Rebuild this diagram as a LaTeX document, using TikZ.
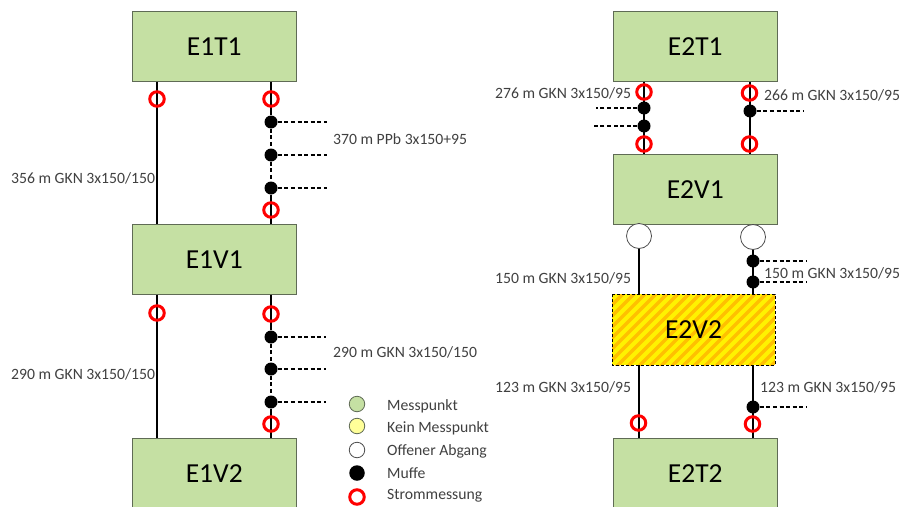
\documentclass[tikz,border=0pt]{standalone}
\usepackage{fontspec}
\setmainfont{Carlito}
\definecolor{boxgreen}{HTML}{C5E0A3}
\definecolor{boxedge}{HTML}{5F6B55}
\definecolor{txt}{HTML}{404040}
\definecolor{hatchy}{HTML}{FFF200}
\definecolor{hatcho}{HTML}{FFC000}
\definecolor{paleyel}{HTML}{FFFF99}
\definecolor{ringred}{HTML}{FF0000}
\tikzset{
  x=1pt,y=-1pt,
  station/.style={draw=boxedge,line width=1pt,fill=boxgreen,minimum width=163.5pt,minimum height=69.5pt,inner sep=0pt,font=\fontsize{27.5}{28}\selectfont,text=black,anchor=north west},
  cable/.style={draw=black,line width=1.2pt},
  stub/.style={draw=black,line width=1.2pt,dash pattern=on 4pt off 2.6pt},
  muffe/.style={circle,fill=black,draw=none,minimum size=13pt,inner sep=0pt},
  ring/.style={circle,draw=ringred,line width=3pt,fill=none,minimum size=14.5pt,inner sep=0pt},
  opencirc/.style={circle,draw=black!70,line width=0.8pt,fill=white,minimum size=25pt,inner sep=0pt},
  lab/.style={font=\fontsize{15.7}{16}\selectfont,text=txt,anchor=west,inner sep=0pt,yshift=-1pt},
  legdot/.style={circle,line width=0.8pt,minimum size=15.5pt,inner sep=0pt},
}
\begin{document}
\begin{tikzpicture}
\useasboundingbox (0,0) rectangle (901,506);
\clip (0,0) rectangle (901,506);
% stations
\node[station] (E1T1) at (132,11) {E1T1};
\node[station] (E1V1) at (132,224) {E1V1};
\node[station,anchor=north west] (E1V2) at (132,438) {E1V2};
\node[station] (E2T1) at (613,11) {E2T1};
\node[station] (E2V1) at (613,154) {E2V1};
\node[station,draw=none,fill=none,line width=0pt,minimum width=163pt,minimum height=71pt] (E2V2) at (612,294) {};
\node[station] (E2T2) at (613,438) {E2T2};
% hatched station
\fill[hatchy] (E2V2.north west) rectangle (E2V2.south east);
\begin{scope}
\clip (E2V2.north west) rectangle (E2V2.south east);
\foreach \k in {-88,-77,...,264}{
  \draw[hatcho,line width=3.4pt] (600+\k,372) -- (600+\k+90,282);
}
\end{scope}
\draw[black,line width=0.8pt,dash pattern=on 3pt off 2pt] (E2V2.north west) rectangle (E2V2.south east);
\node[font=\fontsize{27.5}{28}\selectfont] at (E2V2.center) {E2V2};
% left column nodes
\coordinate (a1) at (157,99);
\coordinate (a2) at (271,99);
\coordinate (b1) at (157,313);
\coordinate (b2) at (271,314);
\node[muffe] (m1) at (271,122) {};
\node[muffe] (m2) at (271,155) {};
\node[muffe] (m3) at (271,188) {};
\node[muffe] (m4) at (271,337) {};
\node[muffe] (m5) at (271,369) {};
\node[muffe] (m6) at (271,402) {};
\coordinate (s1) at (327,122);
\coordinate (s2) at (327,155);
\coordinate (s3) at (327,188);
\coordinate (s4) at (326,337);
\coordinate (s5) at (326,369);
\coordinate (s6) at (326,402);
% right column nodes
\node[muffe] (n1) at (644,108) {};
\node[muffe] (n2) at (644,126) {};
\node[muffe] (n3) at (750,111) {};
\node[muffe] (n4) at (753,261) {};
\node[muffe] (n5) at (753,282) {};
\node[muffe] (n6) at (753,407) {};
\coordinate (t1) at (596,108);
\coordinate (t2) at (593,126);
\coordinate (t3) at (804,111);
\coordinate (t4) at (807,261);
\coordinate (t5) at (807,282);
\coordinate (t6) at (807,407);
\node[opencirc] (o1) at (639,236) {};
\node[opencirc] (o2) at (753,237) {};
% cables
\draw[cable] (a1 |- E1T1.south) -- (a1 |- E1V1.north);
\draw[cable] (a2 |- E1T1.south) -- (m1);
\draw[stub] (m1) -- (m2);
\draw[stub] (m2) -- (m3);
\draw[cable] (m3) -- (a2 |- E1V1.north);
\draw[cable] (b1 |- E1V1.south) -- (b1 |- E1V2.north);
\draw[cable] (b2 |- E1V1.south) -- (m4);
\draw[stub] (m4) -- (m5);
\draw[stub] (m5) -- (m6);
\draw[cable] (m6) -- (b2 |- E1V2.north);
\draw[stub] (m1) -- (s1);
\draw[stub] (m2) -- (s2);
\draw[stub] (m3) -- (s3);
\draw[stub] (m4) -- (s4);
\draw[stub] (m5) -- (s5);
\draw[stub] (m6) -- (s6);
\draw[cable] (n1 |- E2T1.south) -- (n1 |- E2V1.north);
\draw[cable] (n3 |- E2T1.south) -- (n3 |- E2V1.north);
\draw[cable] (o1.south) -- (o1 |- E2V2.north);
\draw[cable] (o2.south) -- (o2 |- E2V2.north);
\draw[cable] (o1 |- E2V2.south) -- (o1 |- E2T2.north);
\draw[cable] (o2 |- E2V2.south) -- (o2 |- E2T2.north);
\draw[stub] (n1) -- (t1);
\draw[stub] (n2) -- (t2);
\draw[stub] (n3) -- (t3);
\draw[stub] (n4) -- (t4);
\draw[stub] (n5) -- (t5);
\draw[stub] (n6) -- (t6);
% rings
\node[ring] (r1) at (a1) {};
\node[ring] (r2) at (a2) {};
\node[ring] (r3) at (271,210) {};
\node[ring] (r4) at (b1) {};
\node[ring] (r5) at (b2) {};
\node[ring] (r6) at (271,424) {};
\node[ring] (r7) at (644,92) {};
\node[ring] (r8) at (749.5,93) {};
\node[ring] (r9) at (644,144) {};
\node[ring] (r10) at (749.5,144) {};
\node[ring] (r11) at (638.5,423) {};
\node[ring] (r12) at (752.5,424) {};
% labels
\node[lab] (l1) at (11,177) {356 m GKN 3x150/150};
\node[lab] (l2) at (333,138) {370 m PPb 3x150+95};
\node[lab] (l3) at (11,373) {290 m GKN 3x150/150};
\node[lab] (l4) at (333,351) {290 m GKN 3x150/150};
\node[lab] (l5) at (495,92) {276 m GKN 3x150/95};
\node[lab] (l6) at (764,94) {266 m GKN 3x150/95};
\node[lab] (l7) at (495,277) {150 m GKN 3x150/95};
\node[lab] (l8) at (764,272) {150 m GKN 3x150/95};
\node[lab] (l9) at (495,386) {123 m GKN 3x150/95};
\node[lab] (l10) at (760,386) {123 m GKN 3x150/95};
% legend
\node[legdot,draw=boxedge,fill=boxgreen] (g1) at (357,404) {};
\node[legdot,draw=boxedge,fill=paleyel] (g2) at (357,426) {};
\node[legdot,draw=black!70,fill=white] (g3) at (357,450) {};
\node[legdot,fill=black] (g4) at (357,473) {};
\node[ring] (g5) at (357,497) {};
\node[lab] at (387,405) {Messpunkt};
\node[lab] at (387,427) {Kein Messpunkt};
\node[lab] at (387,450) {Offener Abgang};
\node[lab] at (387,472) {Muffe};
\node[lab] at (387,495) {Strommessung};
\end{tikzpicture}
\end{document}
